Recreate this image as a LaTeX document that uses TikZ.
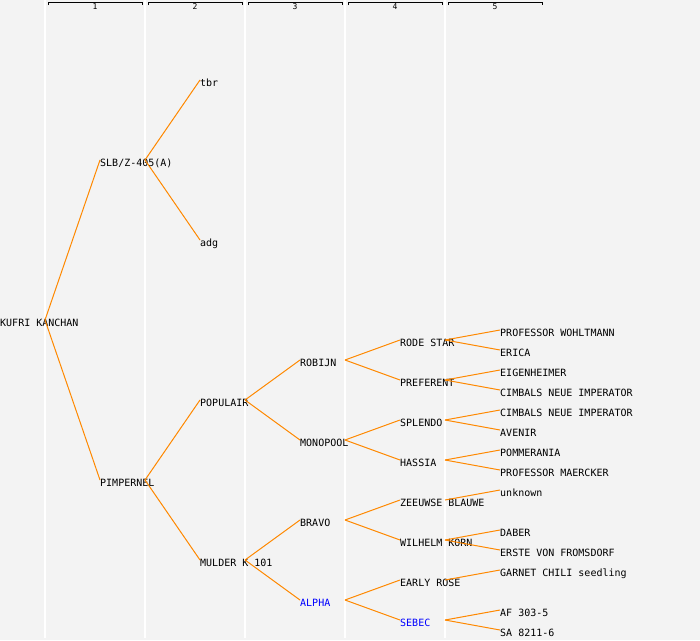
\documentclass[tikz,border=0pt]{standalone}
\usepackage{fontspec}
\setmonofont{DejaVu Sans Mono}
\usepackage{tikz}
\usetikzlibrary{positioning, calc}
\definecolor{bgGray}{HTML}{F3F3F3}
\definecolor{edgeOrange}{HTML}{FF8800}
\definecolor{markBlue}{HTML}{0000FF}
\tikzstyle{Edge} = [
    line width = 1pt,
    draw = edgeOrange
]

\begin{document}
\begin{tikzpicture}[
x = 1pt, y = -1pt,
variety/.style={
    anchor = west,
    inner sep = 0pt,
    text height = 12pt,
    text depth = 0pt,
    font = \fontsize{10}{12}\selectfont\ttfamily
    },
marked/.style={
    variety,
    text = markBlue
    }
]

\fill[bgGray] (0,0) rectangle (700,640);
\useasboundingbox (0,0) rectangle (700,640);

% column rules and headers
\foreach \c in {1,...,5} {
    \draw[white, line width = 1.5pt] (\c*100-55,0) -- (\c*100-55,638);
    \draw[black, line width = 1pt] (\c*100-52,5) -- (\c*100-52,2) -- (\c*100+42,2) -- (\c*100+42,5);
    \node[font = \fontsize{8}{9}\selectfont\ttfamily, inner sep = 0pt] (col\c) at (\c*100-5,7) {\c};
}

\node[variety] (kufri) at (0,320) {KUFRI KANCHAN};

\node[variety] (slb) at (100,160) {SLB/Z-405(A)};
\node[variety] (pimpernel) at (100,480) {PIMPERNEL};

\node[variety] (tbr) at (200,80) {tbr};
\node[variety] (adg) at (200,240) {adg};
\node[variety] (populair) at (200,400) {POPULAIR};
\node[variety] (mulder) at (200,560) {MULDER K 101};

\node[variety] (robijn) at (300,360) {ROBIJN};
\node[variety] (monopool) at (300,440) {MONOPOOL};
\node[variety] (bravo) at (300,520) {BRAVO};
\node[marked] (alpha) at (300,600) {ALPHA};

\node[variety] (rodestar) at (400,340) {RODE STAR};
\node[variety] (preferent) at (400,380) {PREFERENT};
\node[variety] (splendo) at (400,420) {SPLENDO};
\node[variety] (hassia) at (400,460) {HASSIA};
\node[variety] (zeeuwse) at (400,500) {ZEEUWSE BLAUWE};
\node[variety] (wilhelm) at (400,540) {WILHELM KORN};
\node[variety] (earlyrose) at (400,580) {EARLY ROSE};
\node[marked] (sebec) at (400,620) {SEBEC};

\node[variety] (wohltmann) at (500,330) {PROFESSOR WOHLTMANN};
\node[variety] (erica) at (500,350) {ERICA};
\node[variety] (eigenheimer) at (500,370) {EIGENHEIMER};
\node[variety] (cimbalsA) at (500,390) {CIMBALS NEUE IMPERATOR};
\node[variety] (cimbalsB) at (500,410) {CIMBALS NEUE IMPERATOR};
\node[variety] (avenir) at (500,430) {AVENIR};
\node[variety] (pommerania) at (500,450) {POMMERANIA};
\node[variety] (maercker) at (500,470) {PROFESSOR MAERCKER};
\node[variety] (unknown) at (500,490) {unknown};
\node[variety] (daber) at (500,530) {DABER};
\node[variety] (erste) at (500,550) {ERSTE VON FROMSDORF};
\node[variety] (garnet) at (500,570) {GARNET CHILI seedling};
\node[variety] (af) at (500,610) {AF 303-5};
\node[variety] (sa) at (500,630) {SA 8211-6};

\draw[Edge] ([xshift=45pt]kufri.west) -- (slb.west);
\draw[Edge] ([xshift=45pt]kufri.west) -- (pimpernel.west);

\draw[Edge] ([xshift=45pt]slb.west) -- (tbr.west);
\draw[Edge] ([xshift=45pt]slb.west) -- (adg.west);
\draw[Edge] ([xshift=45pt]pimpernel.west) -- (populair.west);
\draw[Edge] ([xshift=45pt]pimpernel.west) -- (mulder.west);

\draw[Edge] ([xshift=45pt]populair.west) -- (robijn.west);
\draw[Edge] ([xshift=45pt]populair.west) -- (monopool.west);
\draw[Edge] ([xshift=45pt]mulder.west) -- (bravo.west);
\draw[Edge] ([xshift=45pt]mulder.west) -- (alpha.west);

\draw[Edge] ([xshift=45pt]robijn.west) -- (rodestar.west);
\draw[Edge] ([xshift=45pt]robijn.west) -- (preferent.west);
\draw[Edge] ([xshift=45pt]monopool.west) -- (splendo.west);
\draw[Edge] ([xshift=45pt]monopool.west) -- (hassia.west);
\draw[Edge] ([xshift=45pt]bravo.west) -- (zeeuwse.west);
\draw[Edge] ([xshift=45pt]bravo.west) -- (wilhelm.west);
\draw[Edge] ([xshift=45pt]alpha.west) -- (earlyrose.west);
\draw[Edge] ([xshift=45pt]alpha.west) -- (sebec.west);

\draw[Edge] ([xshift=45pt]rodestar.west) -- (wohltmann.west);
\draw[Edge] ([xshift=45pt]rodestar.west) -- (erica.west);
\draw[Edge] ([xshift=45pt]preferent.west) -- (eigenheimer.west);
\draw[Edge] ([xshift=45pt]preferent.west) -- (cimbalsA.west);
\draw[Edge] ([xshift=45pt]splendo.west) -- (cimbalsB.west);
\draw[Edge] ([xshift=45pt]splendo.west) -- (avenir.west);
\draw[Edge] ([xshift=45pt]hassia.west) -- (pommerania.west);
\draw[Edge] ([xshift=45pt]hassia.west) -- (maercker.west);
\draw[Edge] ([xshift=45pt]zeeuwse.west) -- (unknown.west);
\draw[Edge] ([xshift=45pt]wilhelm.west) -- (daber.west);
\draw[Edge] ([xshift=45pt]wilhelm.west) -- (erste.west);
\draw[Edge] ([xshift=45pt]earlyrose.west) -- (garnet.west);
\draw[Edge] ([xshift=45pt]sebec.west) -- (af.west);
\draw[Edge] ([xshift=45pt]sebec.west) -- (sa.west);

\end{tikzpicture}
\end{document}
